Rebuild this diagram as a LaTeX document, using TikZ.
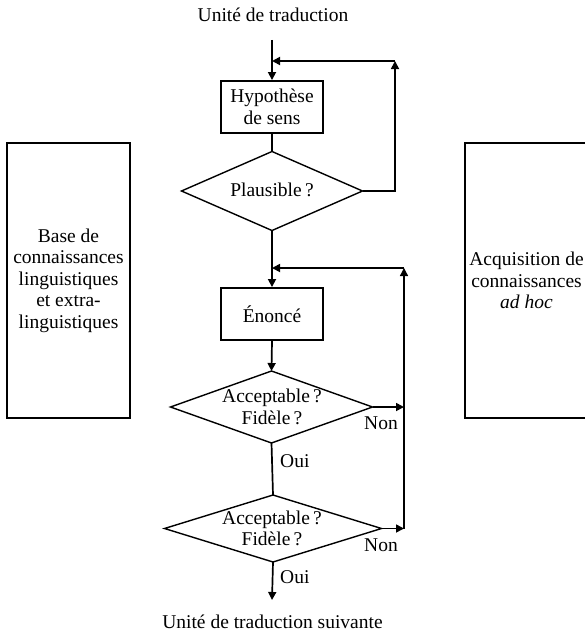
\documentclass[tikz,border=0pt]{standalone}
\usepackage{fontspec}
\setmainfont{Liberation Serif}
\usetikzlibrary{arrows.meta,shapes.geometric}
\begin{document}
\begin{tikzpicture}[x=1pt,y=-1pt,
  every node/.style={font=\fontsize{19.5}{21.5}\selectfont, inner sep=0pt},
  line/.style={line width=1.7pt},
  arr/.style={line width=1.7pt, -{Triangle[length=8pt,width=8pt]}},
  thinarr/.style={line width=1.3pt, -{Triangle[length=8pt,width=8pt]}},
  stepbox/.style={draw, line width=1.9pt, align=center, minimum width=102pt, minimum height=52pt},
  sidebox/.style={draw, line width=1.9pt, align=center, minimum width=123pt, minimum height=275pt},
  dia/.style={draw, diamond, line width=1.4pt, outer sep=0pt},
  lbl/.style={anchor=west}]
\useasboundingbox (0,0) rectangle (585,634);
\clip (0,0) rectangle (585,634);

% titles
\node (title) at (273,15) {Unité de traduction};
\node (next) at (272.5,622) {Unité de traduction suivante};

% side boxes
\node[sidebox] (base) at (68.5,280.5) {Base de\\connaissances\\linguistiques\\et extra-\\linguistiques};
\node[sidebox] (acq) at (526.5,280.5) {Acquisition de\\connaissances\\\textit{ad hoc}};

% main flow
\node[stepbox] (hyp) at (272,107) {Hypothèse\\de sens};
\node[dia, minimum width=181pt, minimum height=79pt] (plaus) at (272,191) {};
\node (plaustxt) at (272,190) {Plausible\,?};
\node[stepbox] (enonce) at (272,314) {Énoncé};
\node[dia, minimum width=202pt, minimum height=72pt] (d1) at (271.5,407) {};
\node[align=center] (d1txt) at (272,407) {Acceptable\,?\\Fidèle\,?};
\node[dia, minimum width=217pt, minimum height=67pt] (d2) at (273,528.5) {};
\node[align=center] (d2txt) at (272,528.5) {Acceptable\,?\\Fidèle\,?};

% coordinates
\coordinate (in) at (272,40);
\coordinate (j1) at (272,61);
\coordinate (r1) at (395,61);
\coordinate (j2) at (272,268);
\coordinate (r2) at (404,268);
\coordinate (r2b) at (404,528.5);
\coordinate (out) at (272,600);

% connectors
\draw[arr] (in) -- (hyp.north);
\draw[line] (hyp.south) -- (plaus.north);
\draw[arr] (plaus.south) -- (enonce.north);
\draw[arr] (enonce.south) -- (d1.north);
\draw[line] (d1.south) -- (d2.north);
\draw[arr] (d2.south) -- (out);

\draw[arr] (plaus.east) -| (r1);
\draw[arr] (r1) -- (j1);

\draw[arr] (d1.east) -- (d1.east -| r2);
\draw[arr] (d2.east) -- (r2b);
\draw[thinarr] (r2b) -- (r2);
\draw[arr] (r2) -- (j2);

% labels
\node[lbl] (non1) at (364,423) {Non};
\node[lbl] (oui1) at (280,461) {Oui};
\node[lbl] (non2) at (364,545) {Non};
\node[lbl] (oui2) at (280,577) {Oui};
\end{tikzpicture}
\end{document}
